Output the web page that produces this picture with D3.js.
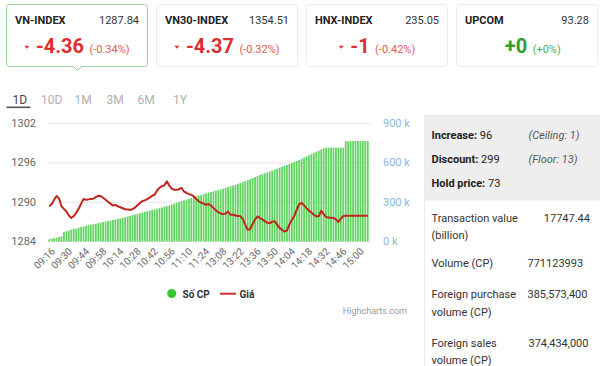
<!DOCTYPE html>
<html><head><meta charset="utf-8">
<script src="https://cdn.jsdelivr.net/npm/d3@7"></script>
<style>
html,body{margin:0;padding:0;background:#fff;}
svg{display:block;font-family:Roboto,"Noto Sans",sans-serif;}
</style></head>
<body>
<svg id="c" width="600" height="366"></svg>
<script>
// ---------- data ----------
const indexNames = ["VN-INDEX","VN30-INDEX","HNX-INDEX","UPCOM"];
const indexValues = ["1287.84","1354.51","235.05","93.28"];
const indexChanges = ["-4.36","-4.37","-1","+0"];
const indexPercents = ["(-0.34%)","(-0.32%)","(-0.42%)","(+0%)"];
const indexDirections = ["down","down","down","flat"];
const periodTabs = ["1D","10D","1M","3M","6M","1Y"];

const categories = ["09:14","09:16","09:18","09:20","09:22","09:24","09:26","09:28","09:30","09:32","09:34","09:36","09:38","09:40","09:42","09:44","09:46","09:48","09:50","09:52","09:54","09:56","09:58","10:00","10:02","10:04","10:06","10:08","10:11","10:14","10:16","10:18","10:20","10:22","10:24","10:26","10:28","10:30","10:32","10:34","10:36","10:38","10:40","10:42","10:44","10:46","10:48","10:50","10:52","10:54","10:56","10:58","11:00","11:02","11:04","11:06","11:08","11:10","11:12","11:14","11:16","11:18","11:20","11:22","11:24","11:26","11:28","13:00","13:02","13:04","13:06","13:08","13:10","13:12","13:14","13:16","13:18","13:20","13:22","13:24","13:26","13:28","13:30","13:32","13:34","13:36","13:38","13:40","13:42","13:44","13:46","13:48","13:50","13:52","13:54","13:56","13:58","14:00","14:02","14:04","14:06","14:08","14:10","14:12","14:14","14:16","14:18","14:20","14:22","14:24","14:26","14:28","14:30","14:32","14:34","14:36","14:38","14:40","14:42","14:44","14:46","14:48","14:50","14:52","14:54","14:56","14:58","15:00","15:02","15:04","15:06"];

const tickLabels = ["09:16","09:30","09:44","09:58","10:14","10:28","10:42","10:56","11:10","11:24","13:08","13:22","13:36","13:50","14:04","14:18","14:32","14:46","15:00"];

// cumulative volume (thousand shares) — "Số CP"
const volume = [13,17,21,25,30,35,68,74,80,86,
91,96,101,106,111,116,120,124,128,132,
136,140,144,148,152,156,160,164,168,172,
177,182,187,192,197,202,207,212,217,222,
227,232,236,240,246,251,256,261,266,271,
278,285,292,298,304,310,316,322,328,334,
340,346,351,357,363,369,373,378,383,388,
393,399,405,411,417,423,429,435,442,449,
456,464,472,480,488,496,503,510,517,524,
531,538,545,552,559,566,573,580,587,594,
602,610,618,627,636,645,654,663,672,681,
690,699,707,712,712,712,712,712,712,712,
712,762,762,762,762,762,762,762,762,762,762];

// index level — "Giá"
const price = [1289.3,1289.6,1290.3,1290.85,1290.5,1289.3,1288.9,1288.5,1287.9,1287.5,
1287.8,1288.3,1288.9,1289.7,1290.4,1290.3,1290.35,1290.4,1290.45,1290.7,
1290.9,1290.85,1290.6,1290.3,1290.0,1289.7,1289.4,1289.5,1289.3,1289.15,
1289.0,1288.85,1288.8,1288.75,1288.85,1289.1,1289.45,1289.8,1290.1,1290.2,
1290.4,1290.6,1290.9,1291.05,1291.7,1292.1,1292.35,1292.5,1293.1,1292.45,
1292.0,1291.8,1291.8,1291.9,1292.1,1291.55,1291.35,1291.15,1291.05,1290.8,
1290.4,1290.05,1289.85,1289.7,1289.5,1289.65,1289.4,1289.05,1288.7,1288.4,
1288.2,1288.1,1288.2,1288.5,1288.0,1288.0,1287.9,1287.8,1287.8,1287.35,
1286.5,1285.7,1285.8,1286.6,1287.3,1287.75,1287.5,1287.3,1287.0,1286.8,
1286.7,1286.95,1287.0,1286.5,1286.0,1285.7,1285.45,1285.6,1286.5,1287.2,
1287.8,1288.8,1289.6,1289.8,1289.45,1289.0,1288.65,1288.35,1288.0,1287.75,
1287.8,1288.6,1288.1,1287.65,1287.6,1287.55,1287.5,1287.3,1286.9,1287.4,
1287.8,1287.84,1287.84,1287.84,1287.84,1287.84,1287.84,1287.84,1287.84,1287.84,1287.84];

const priceTicks = [1284,1290,1296,1302];
const volumeTicks = [0,300,600,900];
const seriesNames = ["Số CP","Giá"];

const breadthLabels = ["Increase:","Discount:","Hold price:"];
const breadthValues = ["96","299","73"];
const breadthNotes = ["(Ceiling: 1)","(Floor: 13)",""];
const statLabels = [["Transaction value","(billion)"],["Volume (CP)"],["Foreign purchase","volume (CP)"],["Foreign sales","volume (CP)"]];
const statValues = ["17747.44","771123993","385,573,400","374,434,000"];

// ---------- drawing ----------
const svg = d3.select("#c");
const RED = "#dc2f2f", RED_LIGHT = "#e05a5a", GREEN = "#2ea02e";

// index cards
const cardX = [6.5,156.5,306.5,456.5];
indexNames.forEach((name,i)=>{
  const g = svg.append("g").attr("transform",`translate(${cardX[i]},4.5)`);
  g.append("rect").attr("width",141).attr("height",62).attr("rx",3)
    .attr("fill","#fff").attr("stroke", i===0 ? "#9bcf9b" : "#ececec");
  g.append("text").attr("x",8.5).attr("y",19.5).attr("font-size",11).attr("font-weight","bold")
    .attr("fill","#222").text(name);
  g.append("text").attr("x",132.5).attr("y",19.5).attr("font-size",11).attr("text-anchor","end")
    .attr("fill","#333").text(indexValues[i]);
  const col = indexDirections[i]==="down" ? RED : GREEN;
  const colL = indexDirections[i]==="down" ? RED_LIGHT : "#4caf50";
  const row = g.append("g");
  const tri = row.append("path").attr("d","M0,0 L5,0 L2.5,3Z").attr("fill",col)
    .attr("opacity", indexDirections[i]==="down"?1:0);
  const big = row.append("text").attr("y",48.8).attr("font-size",20).attr("font-weight","bold").attr("fill",col).text(indexChanges[i]);
  const pct = row.append("text").attr("y",48.3).attr("font-size",11).attr("fill",colL).text(indexPercents[i]);
  const wb = big.node().getComputedTextLength(), wp = pct.node().getComputedTextLength();
  const total = 5 + 6.5 + wb + 5.5 + wp;
  const x0 = 70.5 - total/2;
  tri.attr("transform",`translate(${x0},41.3)`);
  big.attr("x", x0+11.5);
  pct.attr("x", x0+11.5+wb+5.5);
  if(i===0){
    g.append("path").attr("d","M66.5,61.6 L71,66 L75.5,61.6").attr("fill","#fff").attr("stroke","#9bcf9b");
  }
});

// period tabs
const tabX = [12.5,41,74.5,106.5,137.5,173];
periodTabs.forEach((t,i)=>{
  svg.append("text").attr("x",tabX[i]).attr("y",104).attr("font-size",12)
    .attr("fill", i===0 ? "#444" : "#b0b0b0").text(t);
});
svg.append("rect").attr("x",6.5).attr("y",106.5).attr("width",24).attr("height",1.6).attr("fill","#555");

// chart
const plotL = 48, plotR = 369, yTop = 123, yBot = 241;
const x = d3.scaleBand().domain(categories).range([plotL, plotR]).paddingInner(0.28).paddingOuter(0.14);
const yP = d3.scaleLinear().domain([1284,1302]).range([yBot, yTop]);
const yV = d3.scaleLinear().domain([0,900]).range([yBot, yTop]);

// grid
svg.append("g").selectAll("line").data(priceTicks).join("line")
  .attr("x1",plotL).attr("x2",plotR+2).attr("y1",d=>yP(d)+0.5).attr("y2",d=>yP(d)+0.5)
  .attr("stroke","#e6e6e6");

// bars
svg.append("g").selectAll("rect").data(volume).join("rect")
  .attr("x",(d,i)=>x(categories[i])).attr("width",x.bandwidth())
  .attr("y",d=>yV(d)).attr("height",d=>yBot-yV(d)+0.5)
  .attr("fill","#5fd35f");

// line
const line = d3.line().x((d,i)=>x(categories[i])+x.bandwidth()/2).y(d=>yP(d));
svg.append("path").datum(price).attr("d",line).attr("fill","none")
  .attr("stroke","#c0261c").attr("stroke-width",2).attr("stroke-linejoin","round");

// left axis
const la = svg.append("g").attr("transform",`translate(${plotL-10},0)`)
  .call(d3.axisLeft(yP).tickValues(priceTicks).tickSize(0).tickPadding(2).tickFormat(d3.format("d")));
la.select(".domain").remove();
la.selectAll("text").attr("font-size",11).attr("fill","#666").attr("font-family","Roboto,sans-serif");

// right axis
const ra = svg.append("g").attr("transform",`translate(${plotR+12},0)`)
  .call(d3.axisRight(yV).tickValues(volumeTicks).tickSize(0).tickPadding(2).tickFormat(d=>d+" k"));
ra.select(".domain").remove();
ra.selectAll("text").attr("font-size",11).attr("fill","#8db6dc").attr("font-family","Roboto,sans-serif");

// bottom axis
const xa = svg.append("g").attr("transform",`translate(0,${yBot})`)
  .call(d3.axisBottom(x).tickValues(tickLabels).tickSize(0));
xa.select(".domain").remove();
xa.selectAll("text").attr("font-size",10).attr("fill","#666").attr("font-family","Roboto,sans-serif")
  .attr("text-anchor","end").attr("y",0).attr("dy",0)
  .attr("transform","translate(4,11) rotate(-45)");

// legend
const lg = svg.append("g");
lg.append("circle").attr("cx",171.7).attr("cy",293.5).attr("r",4.5).attr("fill","#33c733");
lg.append("text").attr("x",182.5).attr("y",297.5).attr("font-size",10).attr("font-weight","bold").attr("fill","#333").text(seriesNames[0]);
lg.append("line").attr("x1",220).attr("x2",236).attr("y1",293.7).attr("y2",293.7).attr("stroke","#d03030").attr("stroke-width",2);
lg.append("text").attr("x",239.5).attr("y",297.5).attr("font-size",10).attr("font-weight","bold").attr("fill","#333").text(seriesNames[1]);
svg.append("text").attr("x",407).attr("y",313.5).attr("text-anchor","end").attr("font-size",9).attr("fill","#999").text("Highcharts.com");

// right panel
svg.append("rect").attr("x",424.5).attr("y",115.5).attr("width",180).attr("height",260).attr("fill","#fff").attr("stroke","#ececec");
svg.append("rect").attr("x",424.5).attr("y",115.5).attr("width",180).attr("height",85).attr("fill","#eeeeee");
const by = [139.3,163.3,186.5];
breadthLabels.forEach((l,i)=>{
  const t = svg.append("text").attr("x",431.5).attr("y",by[i]).attr("font-size",11).attr("fill","#222");
  t.append("tspan").attr("font-weight","bold").text(l);
  t.append("tspan").text(" "+breadthValues[i]);
  if(breadthNotes[i]) svg.append("text").attr("x",528.5).attr("y",by[i]).attr("font-size",11)
    .attr("font-style","italic").attr("fill","#555").text(breadthNotes[i]);
});
const sy = [221.7,266.7,298.3,346.7];
const valX = [590,527.5,527.5,528.5];
const valAnchor = ["end","start","start","start"];
statLabels.forEach((ls,i)=>{
  ls.forEach((l,j)=>{
    svg.append("text").attr("x",431.5).attr("y",sy[i]+j*17.6).attr("font-size",11).attr("fill","#333").text(l);
  });
  svg.append("text").attr("x",valX[i]).attr("y",sy[i]).attr("font-size",11).attr("fill","#333")
    .attr("text-anchor",valAnchor[i]).text(statValues[i]);
});
</script>
</body></html>
